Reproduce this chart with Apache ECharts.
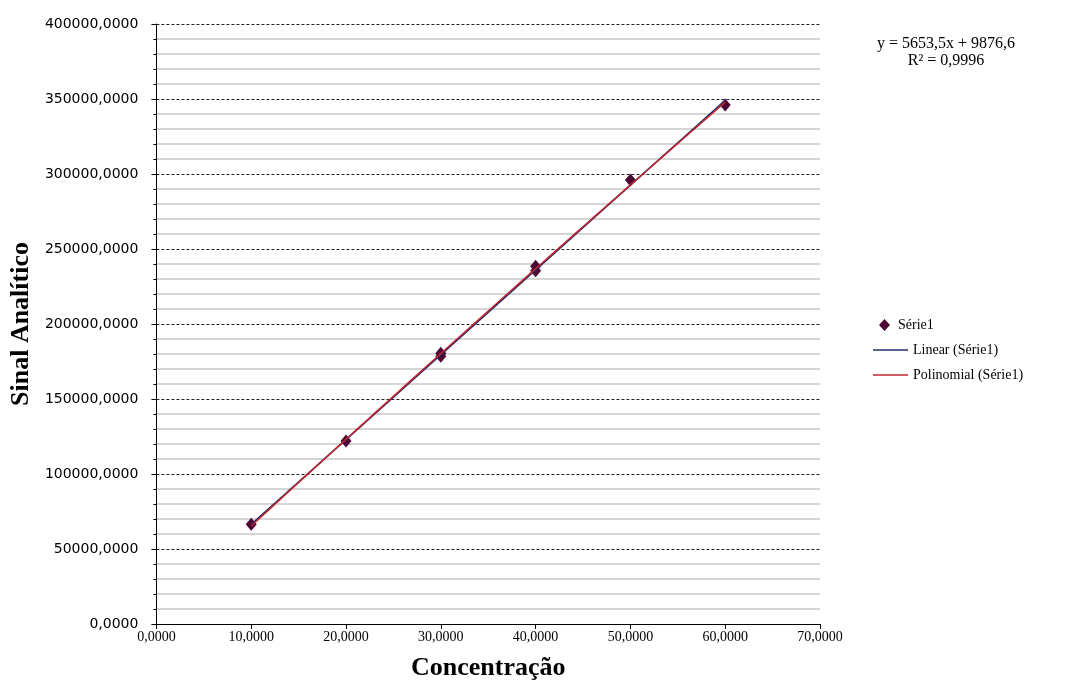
<!DOCTYPE html>
<html>
<head>
<meta charset="utf-8">
<script src="https://cdn.jsdelivr.net/npm/echarts@6/dist/echarts.min.js"></script>
<style>
  html, body { margin: 0; padding: 0; background: #fff; }
  #chart { width: 1068px; height: 686px; }
</style>
</head>
<body>
<div id="chart"></div>
<script>
// Calibration measurements: concentration vs analytical signal
const concentration = [10, 20, 30, 30, 40, 40, 50, 60];
const signal = [66500, 122000, 178500, 180500, 235500, 238500, 296000, 346000];

// Linear trendline as reported in the equation label
const slope = 5653.5;
const intercept = 9876.6;
const rSquared = 0.9996;

// Axis ranges
const xTicks = [0, 10, 20, 30, 40, 50, 60, 70];
const yMax = 400000;

const serif = 'Liberation Serif';
const fmt4 = v => v.toFixed(4).replace('.', ',');
const fmt1 = v => v.toFixed(1).replace('.', ',');

// Second-order least-squares fit of the measurements (polynomial trendline)
function quadFit(xs, ys) {
  let s0 = xs.length, s1 = 0, s2 = 0, s3 = 0, s4 = 0, t0 = 0, t1 = 0, t2 = 0;
  xs.forEach((x, i) => {
    const y = ys[i];
    s1 += x; s2 += x * x; s3 += x ** 3; s4 += x ** 4;
    t0 += y; t1 += x * y; t2 += x * x * y;
  });
  const A = [[s4, s3, s2, t2], [s3, s2, s1, t1], [s2, s1, s0, t0]];
  for (let i = 0; i < 3; i++) {
    for (let k = i + 1; k < 3; k++) {
      const f = A[k][i] / A[i][i];
      for (let j = i; j < 4; j++) A[k][j] -= f * A[i][j];
    }
  }
  const c = [0, 0, 0];
  for (let i = 2; i >= 0; i--) {
    let s = A[i][3];
    for (let j = i + 1; j < 3; j++) s -= A[i][j] * c[j];
    c[i] = s / A[i][i];
  }
  return c; // a, b, c for a*x^2 + b*x + c
}

const xMin = Math.min(...concentration);
const xMaxData = Math.max(...concentration);
const linearLine = [xMin, xMaxData].map(x => [x, slope * x + intercept]);
const q = quadFit(concentration, signal);
const polyLine = [];
for (let x = xMin; x <= xMaxData; x += 1) polyLine.push([x, q[0] * x * x + q[1] * x + q[2]]);

const chart = echarts.init(document.getElementById('chart'));
chart.setOption({
  animation: false,
  backgroundColor: '#fff',
  grid: { left: 155, right: 248, top: 24, bottom: 62 },
  xAxis: {
    type: 'value',
    min: xTicks[0], max: xTicks[xTicks.length - 1], interval: 10,
    name: 'Concentração',
    nameLocation: 'middle',
    nameGap: 31,
    nameTextStyle: { fontFamily: serif, fontWeight: 'bold', fontSize: 26, color: '#000' },
    axisLine: { lineStyle: { color: '#000', width: 1 } },
    axisTick: { show: true, length: 5, lineStyle: { color: '#000' } },
    axisLabel: { formatter: fmt4, fontFamily: serif, fontSize: 14, color: '#000', margin: 6 },
    splitLine: { show: false }
  },
  yAxis: {
    type: 'value',
    min: 0, max: yMax, interval: 50000,
    name: 'Sinal Analítico',
    nameLocation: 'middle',
    nameGap: 120,
    nameTextStyle: { fontFamily: serif, fontWeight: 'bold', fontSize: 26, color: '#000' },
    axisLine: { show: true, lineStyle: { color: '#000', width: 1 } },
    axisTick: { show: true, length: 5, lineStyle: { color: '#000' } },
    minorTick: { show: true, splitNumber: 5, length: 3, lineStyle: { color: '#000' } },
    axisLabel: { formatter: fmt4, fontFamily: 'DejaVu Sans', fontSize: 14, color: '#000', margin: 18 },
    splitLine: { show: true, lineStyle: { color: '#222', type: [3, 2], width: 1 } },
    minorSplitLine: { show: true, lineStyle: { color: '#c8c8c8', width: 1.5 } }
  },
  legend: [
    {
      orient: 'vertical', left: 879, top: 318, padding: 0,
      itemWidth: 11, itemHeight: 12,
      textStyle: { fontFamily: serif, fontSize: 14, color: '#000', padding: [0, 0, 0, 3] },
      data: [{ name: 'Série1', icon: 'diamond' }]
    },
    {
      orient: 'vertical', left: 873, top: 343, itemGap: 11, padding: 0,
      itemWidth: 35, itemHeight: 1.5,
      textStyle: { fontFamily: serif, fontSize: 14, color: '#000' },
      data: [
        { name: 'Linear (Série1)', icon: 'rect' },
        { name: 'Polinomial (Série1)', icon: 'rect' }
      ]
    }
  ],
  graphic: [
    {
      type: 'text', x: 946, y: 35,
      style: {
        text: 'y = ' + fmt1(slope) + 'x + ' + fmt1(intercept) + '\nR² = ' + rSquared.toFixed(4).replace('.', ','),
        font: '16px "Liberation Serif"', fill: '#000', align: 'center', lineHeight: 17
      }
    }
  ],
  series: [
    {
      name: 'Série1', type: 'scatter',
      symbol: 'diamond', symbolSize: [11, 13],
      itemStyle: { color: '#4e0634', opacity: 1 },
      data: concentration.map((x, i) => [x, signal[i]]),
      z: 2
    },
    {
      name: 'Linear (Série1)', type: 'line',
      showSymbol: false, symbol: 'none',
      itemStyle: { color: '#262a66' },
      lineStyle: { color: '#262a66', width: 1.5 },
      data: linearLine, z: 3
    },
    {
      name: 'Polinomial (Série1)', type: 'line',
      showSymbol: false, symbol: 'none', smooth: true,
      itemStyle: { color: '#c4262e' },
      lineStyle: { color: '#c4262e', width: 1.5 },
      data: polyLine, z: 4
    }
  ]
});
</script>
</body>
</html>
